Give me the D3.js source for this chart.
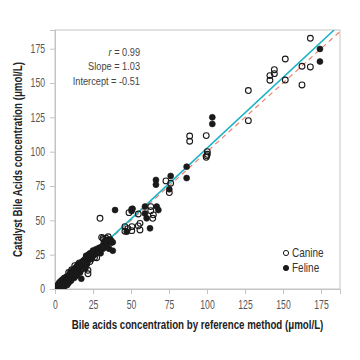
<!DOCTYPE html>
<html><head><meta charset="utf-8">
<script src="https://cdn.jsdelivr.net/npm/d3@7"></script>
<style>body{margin:0;background:#fff}svg{display:block}</style>
</head><body>
<svg id="c" width="360" height="360"></svg>
<script>
const xTicks = [0, 25, 50, 75, 100, 125, 150, 175];
const yTicks = [0, 25, 50, 75, 100, 125, 150, 175];
const xTitle = "Bile acids concentration by reference method (\u03bcmol/L)";
const yTitle = "Catalyst Bile Acids concentration (\u03bcmol/L)";
const stats = [["r", " = 0.99"], ["Slope", " = 1.03"], ["Intercept", " = -0.51"]];
const fitLine = {slope: 1.03, intercept: -0.51};
const legendLabels = ["Canine", "Feline"];

const canine = [
[168,182.6],[162.5,162.2],[168,161.7],[151.5,167.5],[144.3,159.7],[144.3,156.8],[141.4,155.4],[141.4,152],
[151.5,152.2],[162.5,148.6],[127.2,144.5],[127.2,122.6],[99.5,111.7],[88.6,111.4],[88.6,107.6],
[100.2,100],[100.2,98.1],[99.5,95.9],[99.8,97],
[73,78.7],[76.1,77],[75.2,70.2],[63,60],[63,57],[64.7,54],[64.3,51.5],[48.7,55.6],[50.5,58],[54.8,54.6],
[55.9,47.8],[55.9,43],[54.8,46],[46,45.4],[50.6,45.4],[46,42],[50.5,42.5],[48,44],
[29.6,51.5],[30.7,37.6],[31.6,37],[33.5,37],[35,38],[36.2,33.3],[32,36],[34,34],
[1,1],[2,2.5],[3,3.5],[4,2],[5,6],[6,5],[6,3],[7,8],[8,6],[9,9],[10,7],[11,9],[11,14],[12,12],[13,9],
[14,11],[15,13],[15,16],[16,16],[17,14],[18,15],[18,19],[19,17],[20,20],[21,19],[21.7,13.6],[21.7,11.1],
[20.6,24],[22,23],[23,20],[24,22],[25,25],[26,23],[27.4,22.8],[28,27],[13,17],[9,12],[16,19]
];
const feline = [
[174.3,174.8],[174.3,165.6],[103.5,125],[103.5,120.2],[86.6,89.1],[86.6,80.8],[76.1,82.3],[66.4,79.4],
[66.4,76],[75.2,72.6],
[39.5,57.5],[59.2,60],[59.2,55],[66.9,60],[68,57.5],[60.3,51.5],[62.5,44.2],[47.2,41.7],[50.4,56.8],[51,58.5],
[28,28],[29,30],[30,29],[31,31],[31.6,29.4],[32,33],[33,35],[34,33],[35,36],[35.5,29.4],[36,34],[36.5,36],
[37,35],[38,34],[38,27.9],[33,31],[30,26],[29,27],
[1,2],[1.5,0.5],[2,3],[2,1],[2.5,4],[3,2],[3,5],[3.5,1],[4,3],[4,6],[4.5,4.5],[5,2],[5,7],[5.5,5],[6,4],[6,8],
[7,6],[7,3],[7.5,9],[8,7],[8.5,5],[9,10],[9,8],[10,9],[10,12],[10.5,6],[11,11],[11,13],[12,10],[12,14],[12.5,8],
[13,12],[13,15],[14,13],[14,16],[14.5,10],[15,14],[15,18],[16,15],[16,17],[16.5,12],[17,16],[17,19],[18,17],
[18,20],[17.3,7.5],[19,18],[19,21],[20,19],[20,22],[21,18],[22,21],[22,25],[23,22],[24,23],[24,26],[25,24],
[26,27],[27,26],[27,29],[28,27],[20,15],[21,24],[23,26],[25,28],[26,25],[4,0.5],[6,1.5],[8,3],[9,4.5]
];

const FONT = "'Liberation Sans',Arial,sans-serif";
const svg = d3.select("#c");
const m = {l: 55, r: 340, t: 30, b: 289};
const x = d3.scaleLinear().domain([0, 187.5]).range([m.l, m.r]);
const y = d3.scaleLinear().domain([0, 188.6]).range([m.b, m.t]);
const SX = 0.72;

svg.append("rect").attr("x", m.l).attr("y", m.t).attr("width", m.r - m.l).attr("height", m.b - m.t)
  .attr("fill", "none").attr("stroke", "#c4c4c4").attr("stroke-width", 1);

const xa = svg.append("g").attr("transform", `translate(0,${m.b})`)
  .call(d3.axisBottom(x).tickValues(xTicks).tickSize(5).tickPadding(6));
const ya = svg.append("g").attr("transform", `translate(${m.l},0)`)
  .call(d3.axisLeft(y).tickValues(yTicks).tickSize(5).tickPadding(5));
[xa, ya].forEach(a => {
  a.select(".domain").attr("stroke", "#c4c4c4");
  a.selectAll(".tick line").attr("stroke", "#c4c4c4");
  a.selectAll(".tick text").attr("fill", "#555").style("font-family", FONT).style("font-size", "12px");
});
xa.selectAll(".tick text").attr("transform", `scale(${SX},1)`);
ya.selectAll(".tick text").attr("x", -10 / SX).attr("transform", `scale(${SX},1)`);

svg.append("clipPath").attr("id", "clip").append("rect")
  .attr("x", m.l).attr("y", m.t).attr("width", m.r - m.l).attr("height", m.b - m.t);
const g = svg.append("g").attr("clip-path", "url(#clip)");

g.append("line").attr("x1", x(0)).attr("y1", y(0)).attr("x2", x(187.5)).attr("y2", y(187.5))
  .attr("stroke", "#f07a68").attr("stroke-width", 1.1).attr("stroke-dasharray", "5,4");
const xEnd = (188.6 - fitLine.intercept) / fitLine.slope;
g.append("line").attr("x1", x(0)).attr("y1", y(fitLine.intercept)).attr("x2", x(xEnd)).attr("y2", y(188.6))
  .attr("stroke", "#1ab3c6").attr("stroke-width", 1.6);

g.selectAll("circle.f").data(feline).join("circle").attr("class", "f")
  .attr("cx", d => x(d[0])).attr("cy", d => y(d[1])).attr("r", 3)
  .attr("fill", "#1a1a1a").attr("stroke", "#1a1a1a").attr("stroke-width", 0.6);
g.selectAll("circle.c").data(canine).join("circle").attr("class", "c")
  .attr("cx", d => x(d[0])).attr("cy", d => y(d[1])).attr("r", 2.9)
  .attr("fill", "none").attr("stroke", "#1a1a1a").attr("stroke-width", 1.1);

// stats block, horizontally condensed
const st = svg.append("g").attr("transform", `translate(140,0) scale(0.8,1)`)
  .style("font-family", FONT).style("font-size", "11.5px").attr("fill", "#444");
stats.forEach((s, i) => {
  const t = st.append("text").attr("x", 0).attr("y", 56 + i * 14.3).attr("text-anchor", "end");
  t.append("tspan").text(s[0]).style("font-style", i === 0 ? "italic" : "normal");
  t.append("tspan").text(s[1]);
});

const legendRows = svg.append("g");
legendLabels.forEach((lab, i) => {
  const cy = 253 + i * 15;
  legendRows.append("circle").attr("cx", 286).attr("cy", cy).attr("r", 2.6)
    .attr("fill", i === 0 ? "#fff" : "#1a1a1a").attr("stroke", "#1a1a1a").attr("stroke-width", 1);
  legendRows.append("text").attr("transform", `translate(292,${cy + 4.3}) scale(0.8,1)`)
    .style("font-family", FONT).style("font-size", "12.5px").attr("fill", "#333").text(lab);
});

function condensedTitle(txt, tx, ty, rot, target) {
  const t = svg.append("text").attr("text-anchor", "middle")
    .style("font-family", FONT).style("font-size", "12.5px").style("font-weight", "bold").attr("fill", "#222")
    .text(txt);
  const s = target / t.node().getComputedTextLength();
  t.attr("transform", `translate(${tx},${ty}) rotate(${rot}) scale(${s},1)`);
}
condensedTitle(xTitle, (m.l + m.r) / 2, 329, 0, 252);
condensedTitle(yTitle, 22, (m.t + m.b) / 2, -90, 195);
</script>
</body></html>
